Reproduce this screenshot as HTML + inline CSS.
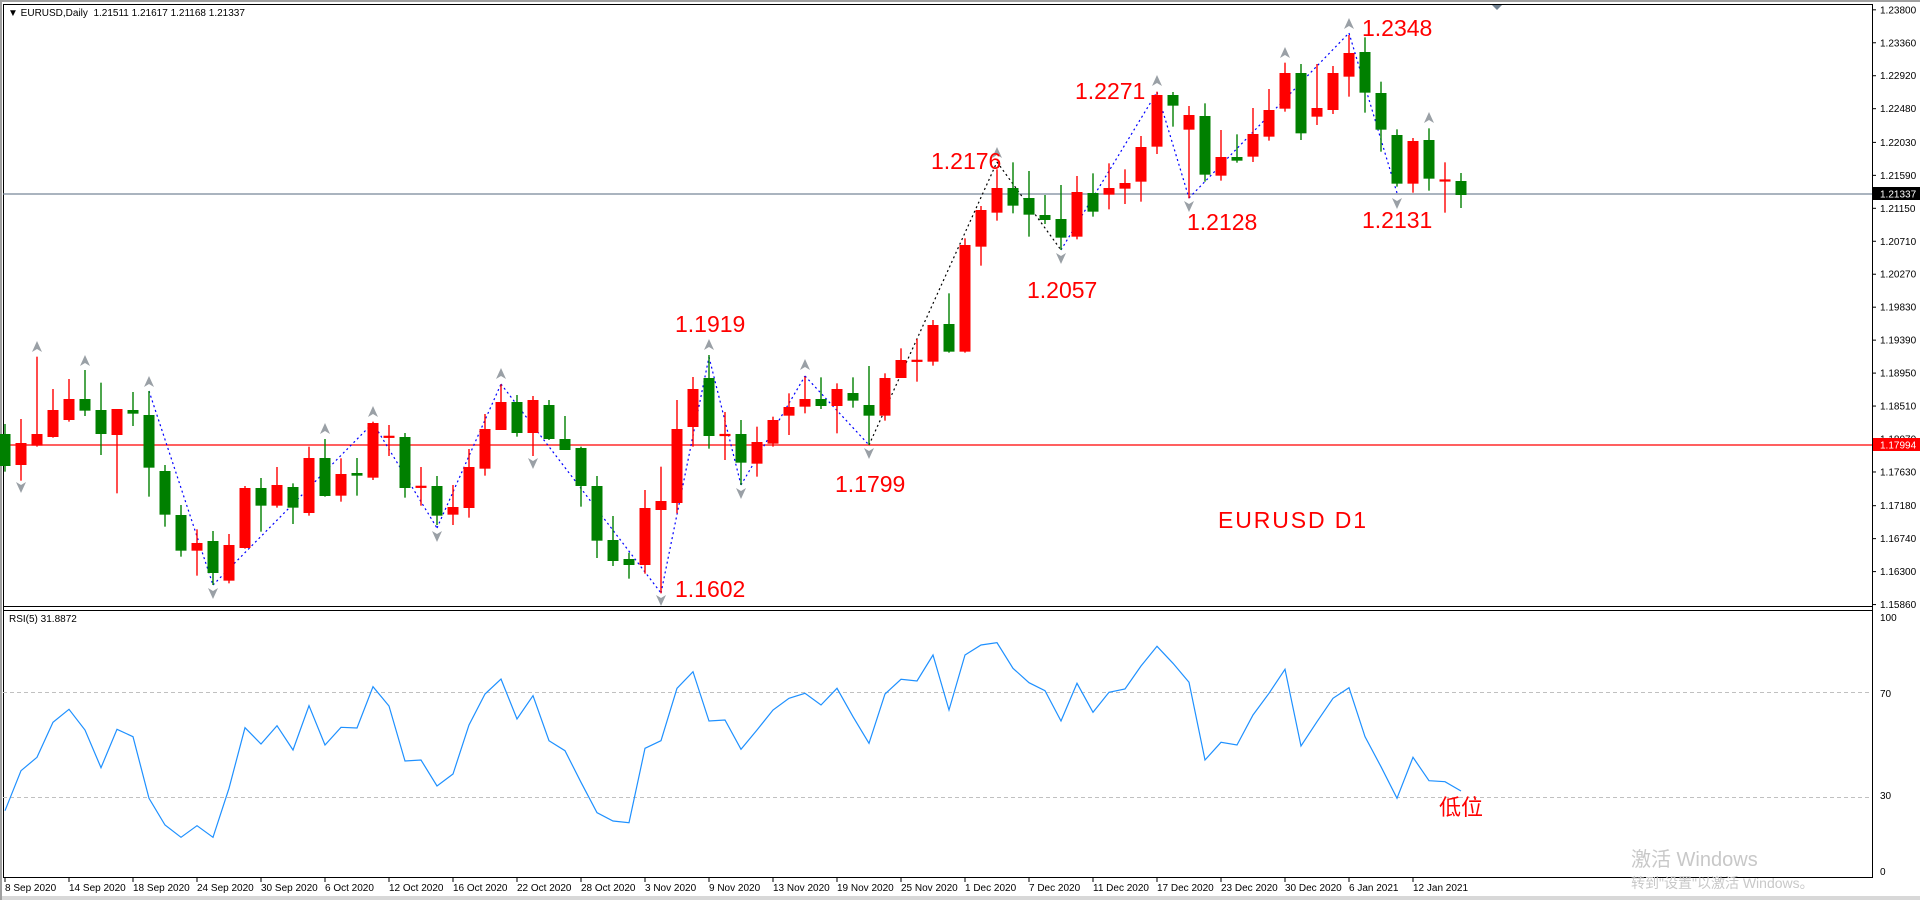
<!DOCTYPE html>
<html><head><meta charset="utf-8"><style>
html,body{margin:0;padding:0;background:#fff;width:1920px;height:900px;overflow:hidden}
svg{display:block}
text{font-family:"Liberation Sans","Noto Sans CJK SC",sans-serif}
</style></head><body>
<svg id="s" width="1920" height="900" viewBox="0 0 1920 900" xmlns="http://www.w3.org/2000/svg">
<rect x="0" y="0" width="1920" height="900" fill="#fff"/>
<rect x="0" y="0" width="1920" height="2" fill="#a0a0a0"/>
<rect x="0" y="896" width="1920" height="4" fill="#d8d8d8"/>
<rect x="0" y="0" width="2" height="900" fill="#a0a0a0"/>
<line x1="3.5" y1="4" x2="3.5" y2="878" stroke="#000" stroke-width="1"/>
<line x1="3" y1="4.5" x2="1872" y2="4.5" stroke="#000"/>
<line x1="3" y1="606.5" x2="1872" y2="606.5" stroke="#000"/>
<line x1="3" y1="610.5" x2="1872" y2="610.5" stroke="#000"/>
<line x1="3" y1="877.5" x2="1872" y2="877.5" stroke="#000"/>
<line x1="1872.5" y1="4" x2="1872.5" y2="878" stroke="#000"/>
<polygon points="1492,5 1502,5 1497,10" fill="#708090"/>
<g id="grid"></g>
<line x1="3" y1="445" x2="1872" y2="445" stroke="#ff0000" stroke-width="1.3"/>
<line x1="3" y1="194" x2="1872" y2="194" stroke="#778899" stroke-width="1.3"/>
<g id="zz"></g>
<g id="cd"></g>
<g id="ar"></g>
<g id="rsi"></g>
<text x="8" y="16" font-size="10" fill="#000">▼ EURUSD,Daily&#160; 1.21511 1.21617 1.21168 1.21337</text>
<text x="9" y="622" font-size="10" fill="#000">RSI(5) 31.8872</text>
<g font-size="23" fill="#ff0000">
<text x="675" y="332">1.1919</text>
<text x="835" y="492">1.1799</text>
<text x="675" y="597">1.1602</text>
<text x="931" y="169">1.2176</text>
<text x="1027" y="298">1.2057</text>
<text x="1075" y="99">1.2271</text>
<text x="1187" y="230">1.2128</text>
<text x="1362" y="36">1.2348</text>
<text x="1362" y="228">1.2131</text>
<text x="1218" y="528" textLength="148">EURUSD D1</text>
<text x="1439" y="815" font-size="22" font-family="'Noto Sans CJK SC',sans-serif">低位</text>
</g>
<text x="1631" y="866" font-size="20" fill="#c8c8c8">激活 Windows</text>
<text x="1631" y="888" font-size="14" fill="#c8c8c8">转到"设置"以激活 Windows。</text>
<g id="ax" font-size="10" fill="#000">
<text x="1880" y="14">1.23800</text><text x="1880" y="43">1.23360</text><text x="1880" y="71">1.22920</text><text x="1880" y="100">1.22480</text><text x="1880" y="129">1.22030</text><text x="1880" y="157">1.21590</text><text x="1880" y="186">1.21150</text><text x="1880" y="215">1.20710</text><text x="1880" y="243">1.20270</text><text x="1880" y="272">1.19830</text><text x="1880" y="301">1.19390</text><text x="1880" y="329">1.18950</text><text x="1880" y="358">1.18510</text><text x="1880" y="387">1.18070</text><text x="1880" y="416">1.17630</text><text x="1880" y="445">1.17180</text><text x="1880" y="473">1.16740</text><text x="1880" y="502">1.16300</text><text x="1880" y="531">1.15860</text>
</g>
<rect x="1873" y="187" width="47" height="13" fill="#000"/>
<text x="1880" y="197.5" font-size="10" fill="#fff">1.21337</text>
<rect x="1873" y="438" width="47" height="13" fill="#ff0000"/>
<text x="1880" y="448.5" font-size="10" fill="#fff">1.17994</text>
<g font-size="10" fill="#000">
<text x="1880" y="621">100</text><text x="1880" y="697">70</text><text x="1880" y="799">30</text><text x="1880" y="875">0</text>
</g>
<g id="dt" font-size="10" fill="#000"></g>
</svg>
<script>
var NS="http://www.w3.org/2000/svg";
function el(p,t,a,txt){var e=document.createElementNS(NS,t);for(var k in a)e.setAttribute(k,a[k]);if(txt)e.textContent=txt;document.getElementById(p).appendChild(e);return e;}
function py(p){return 1.2262*(8+(1.238-p)/0.0001637);}
// fix axis label y positions
var ax=document.getElementById('ax').children;
for(var i=0;i<ax.length;i++){var p=parseFloat(ax[i].textContent);ax[i].setAttribute('y',(py(p)+3.5).toFixed(1));el('grid','line',{x1:1872,y1:py(p),x2:1876,y2:py(p),stroke:'#000'});}
function bx(i){return 5+16*i;}
// candles: [color, wickTop, bodyTop, bodyBot, wickBot]
var A=[['G',282,312,408,425],['R',267,339,405,452],['R',80,312,347,350],['R',177,240,321,323],['R',147,207,270,275],['G',120,207,242,258],['G',158,240,312,375],['R',237,237,315,490],['G',186,240,251,288],['G',183,255,413,500],['G',405,423,554,590],['G',525,555,662,680],['R',598,639,662,737],['G',603,633,729,765],['R',612,645,752,760],['R',468,474,654,656],['G',444,474,527,605],['R',411,465,527,533],['G',460,471,533,582],['R',350,384,549,557],['G',327,384,498,500],['R',385,432,497,515],['G',384,429,437,497],['R',275,279,443,450],['R',285,318,323,378],['G',309,321,474,503],['R',411,468,473,527],['G',438,468,557,585],['R',465,531,554,585],['R',357,411,534,563],['R',252,297,416,437],['R',163,216,300,300],['G',195,216,309,320],['R',198,210,309,378],['G',210,225,327,330],['G',258,327,360,360],['G',350,354,468,530],['G',438,468,632,684],['G',558,630,693,708],['G',668,687,705,746],['R',480,534,705,731],['R',410,513,540,790],['R',210,297,519,550],['R',141,177,291,350],['G',75,144,318,356],['R',246,312,318,390]];
var B=[['G',360,402,488,555],['R',380,426,491,530],['R',350,360,431,440],['R',280,321,347,405],['R',230,297,320,340],['G',232,297,318,327],['R',250,267,318,400],['G',232,279,302,323],['G',198,315,347,435],['R',220,234,347,362],['R',145,180,234,234],['R',117,180,185,245]];
var C=[['R',960,975,1085,1097],['G',880,972,1055,1058],['R',715,735,1055,1058],['R',618,630,740,797],['R',508,564,638,662],['G',487,564,617,640],['G',513,594,644,710],['G',585,645,660,672],['G',555,657,713,750],['R',528,576,710,718],['G',520,579,635,650],['R',490,564,584,628],['R',508,549,566,612],['R',408,441,545,605],['R',275,285,440,462],['G',276,285,317,380],['R',318,345,389,595],['G',310,348,524,545],['R',390,471,527,542],['G',403,471,482,488],['R',324,402,470,486],['R',267,330,410,422],['R',188,219,326,335],['G',192,219,400,420],['R',192,324,350,375],['R',198,219,330,342],['R',105,159,230,290],['G',112,156,278,338],['G',245,279,389,455],['G',388,405,551,560],['R',414,423,551,578],['G',385,420,536,572],['R',487,540,543,638]];
var bars=[];
A.forEach(function(c,i){bars[i]=[c[0]].concat(c.slice(1).map(function(v){return 330+v/3;}));});
B.forEach(function(c,i){bars[46+i]=[c[0]].concat(c.slice(1).map(function(v){return 300+v/3;}));});
C.forEach(function(c,i){bars[58+i]=[c[0]].concat(c.slice(1).map(function(v){return v/3;}));});
bars[91]=['G',173,181,195,208];
bars.forEach(function(c,i){var x=bx(i),col=c[0]=='R'?'#ff0000':'#008000';
 el('cd','line',{x1:x,y1:c[1],x2:x,y2:c[4],stroke:col,'stroke-width':1.4});
 var h=c[3]-c[2]; if(h<2.2){el('cd','rect',{x:x-5.5,y:(c[2]+c[3])/2-1.1,width:11,height:2.2,fill:col});}
 else el('cd','rect',{x:x-5.5,y:c[2],width:11,height:h,fill:col});});
// zigzag
var piv=[[9,391,'b'],[13,585,'b'],[23,423,'b'],[27,528,'b'],[31,384,'b'],[41,593,'b'],[44,357,'b'],[46,485,'b'],[50,376,'b'],[54,445,'k'],[62,162,'k'],[66,250,'b'],[72,92,'b'],[74,198,'b'],[84,33,'b'],[87,193,'b']];
for(var k=0;k<piv.length-1;k++){el('zz','line',{x1:bx(piv[k][0]),y1:piv[k][1],x2:bx(piv[k+1][0]),y2:piv[k+1][1],stroke:piv[k][2]=='k'?'#000':'#0000ff','stroke-width':1.2,'stroke-dasharray':'2,3'});}
// arrows
var up=[[2,347],[5,361],[9,382],[20,429],[23,412],[31,374],[44,345],[50,365],[62,153],[72,81],[80,53],[84,24],[89,118]];
var dn=[[1,487],[13,593],[27,536],[33,463],[41,600],[46,493],[54,453],[66,258],[74,206],[87,203]];
up.forEach(function(a){var x=bx(a[0]),y=a[1];el('ar','polygon',{points:(x)+','+(y-6)+' '+(x+5)+','+(y+5)+' '+x+','+(y+2)+' '+(x-5)+','+(y+5),fill:'#9aa0a6'});});
dn.forEach(function(a){var x=bx(a[0]),y=a[1];el('ar','polygon',{points:(x)+','+(y+6)+' '+(x+5)+','+(y-5)+' '+x+','+(y-2)+' '+(x-5)+','+(y-5),fill:'#9aa0a6'});});
// RSI
el('rsi','line',{x1:3,y1:692.5,x2:1872,y2:692.5,stroke:'#c0c0c0','stroke-dasharray':'4,3'});
el('rsi','line',{x1:3,y1:797.5,x2:1872,y2:797.5,stroke:'#c0c0c0','stroke-dasharray':'4,3'});
var r=[810.7,770.7,757.3,722.3,709.3,730,767.7,729.3,736.7,798.3,825,837.3,825.7,837.3,788.3,727.7,744,725.7,750,705.7,745,727.3,728,686.7,706,761,760,786,774,725,694,679];
[297,227,362,392,487,578,603,608,385,362,205,155,303,300,388,330,270,235,220,255,205,290,370,222,178,183,105,270,105,75,68].forEach(function(v){r.push(620+v/3);});
[145,188,212,303,190,277,217,207,138,79,130,187,420,367,375,285,220,148,378,305,235,203,350,440,535,412,482,485,513].forEach(function(v){r.push(620+v/3);});
el('rsi','polyline',{points:r.map(function(y,i){return bx(i)+','+y.toFixed(1);}).join(' '),fill:'none',stroke:'#1e90ff','stroke-width':1.2});
// dates
var d=["8 Sep 2020","14 Sep 2020","18 Sep 2020","24 Sep 2020","30 Sep 2020","6 Oct 2020","12 Oct 2020","16 Oct 2020","22 Oct 2020","28 Oct 2020","3 Nov 2020","9 Nov 2020","13 Nov 2020","19 Nov 2020","25 Nov 2020","1 Dec 2020","7 Dec 2020","11 Dec 2020","17 Dec 2020","23 Dec 2020","30 Dec 2020","6 Jan 2021","12 Jan 2021"];
d.forEach(function(t,k){var x=5+64*k;el('dt','line',{x1:x,y1:878,x2:x,y2:882,stroke:'#000'});el('dt','text',{x:x,y:891},t);});
</script>
</body></html>
